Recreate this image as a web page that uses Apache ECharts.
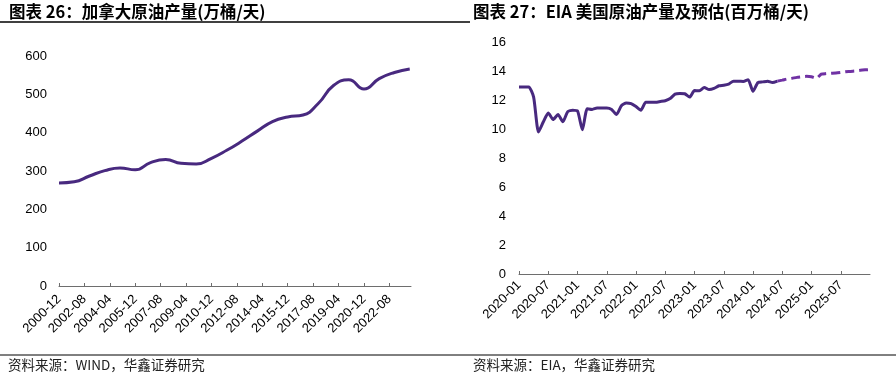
<!DOCTYPE html>
<html>
<head>
<meta charset="utf-8">
<style>
  html, body { margin: 0; padding: 0; background: #fff; }
  #main { width: 896px; height: 377px; }
</style>
<script src="https://cdn.jsdelivr.net/npm/echarts@6/dist/echarts.min.js"></script>
</head>
<body>
<div id="main"></div>
<script>
// 加拿大原油产量(万桶/天)，年末值
var caPointDates = ['2000-12','2001-12','2002-12','2003-12','2004-12','2005-12','2006-12','2007-12',
                    '2008-12','2009-12','2010-12','2011-12','2012-12','2013-12','2014-12','2015-12',
                    '2016-12','2017-12','2018-12','2019-12','2020-12','2021-12','2022-12','2023-12'];
var caPointValues = [269, 272, 287, 301, 308, 303, 322, 330,
                     320, 318, 333, 354, 378, 404, 429, 441,
                     446, 476, 523, 538, 514, 541, 557, 566];

// EIA 美国原油产量(百万桶/天)，2020-01 起按月
var usActual = [12.9, 12.9, 12.9, 12.2, 9.8, 10.5, 11.1, 10.65, 11.0, 10.5, 11.2, 11.3,
                11.25, 9.95, 11.4, 11.35, 11.45, 11.45, 11.45, 11.35, 11.0, 11.6, 11.8, 11.75,
                11.55, 11.3, 11.85, 11.85, 11.85, 11.9, 11.95, 12.1, 12.4, 12.45, 12.43, 12.2,
                12.65, 12.64, 12.87, 12.72, 12.8, 12.98, 13.02, 13.1, 13.3, 13.3, 13.28, 13.4,
                12.6, 13.2, 13.25, 13.3, 13.2, 13.3];
// 预估，从 2024-06 接上
var usForecast = [13.3, 13.37, 13.45, 13.5, 13.56, 13.6, 13.63, 13.6, 13.5, 13.78,
                  13.82, 13.84, 13.86, 13.9, 13.95, 13.97, 14.0, 14.05, 14.08, 14.1];

function monthList(y, m, n) {
  var out = [];
  for (var i = 0; i < n; i++) {
    out.push(y + '-' + (m < 10 ? '0' + m : m));
    m++;
    if (m > 12) { m = 1; y++; }
  }
  return out;
}
var caMonths = monthList(2000, 12, 278);   // 2000-12 ~ 2024-01
var usMonths = monthList(2020, 1, 73);     // 2020-01 ~ 2026-01

var caData = caPointDates.map(function (d, i) { return [d, caPointValues[i]]; });
var usFcData = [];
for (var k = 0; k < usActual.length - 1; k++) usFcData.push(null);
usFcData = usFcData.concat(usForecast);

var lineColor = '#48297F';
var fcColor = '#7032A4';
var txtFont = 'Liberation Sans';
var cjkFont = 'Noto Sans CJK SC';

var myChart = echarts.init(document.getElementById('main'));
var option = {
  animation: false,
  title: [
    { text: '图表 26：加拿大原油产量(万桶/天)', left: 9, top: 3, padding: 0,
      textStyle: { fontFamily: cjkFont, fontSize: 16.5, fontWeight: 'bold', color: '#000' } },
    { text: '图表 27：EIA 美国原油产量及预估(百万桶/天)', left: 473, top: 3, padding: 0,
      textStyle: { fontFamily: cjkFont, fontSize: 16.5, fontWeight: 'bold', color: '#000' } },
    { text: '资料来源：WIND，华鑫证券研究', left: 8, top: 358, padding: 0,
      textStyle: { fontFamily: cjkFont, fontSize: 13.5, fontWeight: 'normal', color: '#222' } },
    { text: '资料来源：EIA，华鑫证券研究', left: 473, top: 358, padding: 0,
      textStyle: { fontFamily: cjkFont, fontSize: 13.5, fontWeight: 'normal', color: '#222' } }
  ],
  graphic: [
    { type: 'line', shape: { x1: 0, y1: 22, x2: 470, y2: 22 }, style: { stroke: '#000', lineWidth: 1.5 } },
    { type: 'line', shape: { x1: 0, y1: 355, x2: 896, y2: 355 }, style: { stroke: '#000', lineWidth: 1 } }
  ],
  grid: [
    { left: 59, right: 485, top: 56, bottom: 91 },
    { left: 519, right: 26, top: 42, bottom: 103 }
  ],
  xAxis: [
    {
      gridIndex: 0, type: 'category', data: caMonths, boundaryGap: false,
      axisLine: { lineStyle: { color: '#6e6e6e', width: 1 } },
      axisTick: { inside: true, length: 3, interval: 19, lineStyle: { color: '#6e6e6e' } },
      axisLabel: { interval: 19, rotate: 45, margin: 11, fontFamily: txtFont, fontSize: 13, color: '#000' }
    },
    {
      gridIndex: 1, type: 'category', data: usMonths, boundaryGap: false,
      axisLine: { lineStyle: { color: '#6e6e6e', width: 1 } },
      axisTick: { inside: true, length: 3, interval: 5, lineStyle: { color: '#6e6e6e' } },
      axisLabel: { interval: 5, rotate: 45, margin: 9, fontFamily: txtFont, fontSize: 13, color: '#000',
                   showMaxLabel: false }
    }
  ],
  yAxis: [
    {
      gridIndex: 0, type: 'value', min: 0, max: 600, interval: 100,
      axisLine: { show: false }, axisTick: { show: false }, splitLine: { show: false },
      axisLabel: { margin: 12, fontFamily: txtFont, fontSize: 13, color: '#000' }
    },
    {
      gridIndex: 1, type: 'value', min: 0, max: 16, interval: 2,
      axisLine: { show: false }, axisTick: { show: false }, splitLine: { show: false },
      axisLabel: { margin: 13, fontFamily: txtFont, fontSize: 13, color: '#000' }
    }
  ],
  series: [
    {
      name: '加拿大原油产量', type: 'line', xAxisIndex: 0, yAxisIndex: 0,
      data: caData, smooth: true, symbol: 'none',
      lineStyle: { color: lineColor, width: 3 }
    },
    {
      name: '美国原油产量', type: 'line', xAxisIndex: 1, yAxisIndex: 1,
      data: usActual, smooth: 0.2, symbol: 'none',
      lineStyle: { color: lineColor, width: 3 }
    },
    {
      name: '预估', type: 'line', xAxisIndex: 1, yAxisIndex: 1,
      data: usFcData, smooth: 0.2, symbol: 'none',
      lineStyle: { color: fcColor, width: 3, type: [9, 5] }
    }
  ]
};
myChart.setOption(option);
window.addEventListener('resize', function () {
  myChart.resize();
});
</script>
</body>
</html>
